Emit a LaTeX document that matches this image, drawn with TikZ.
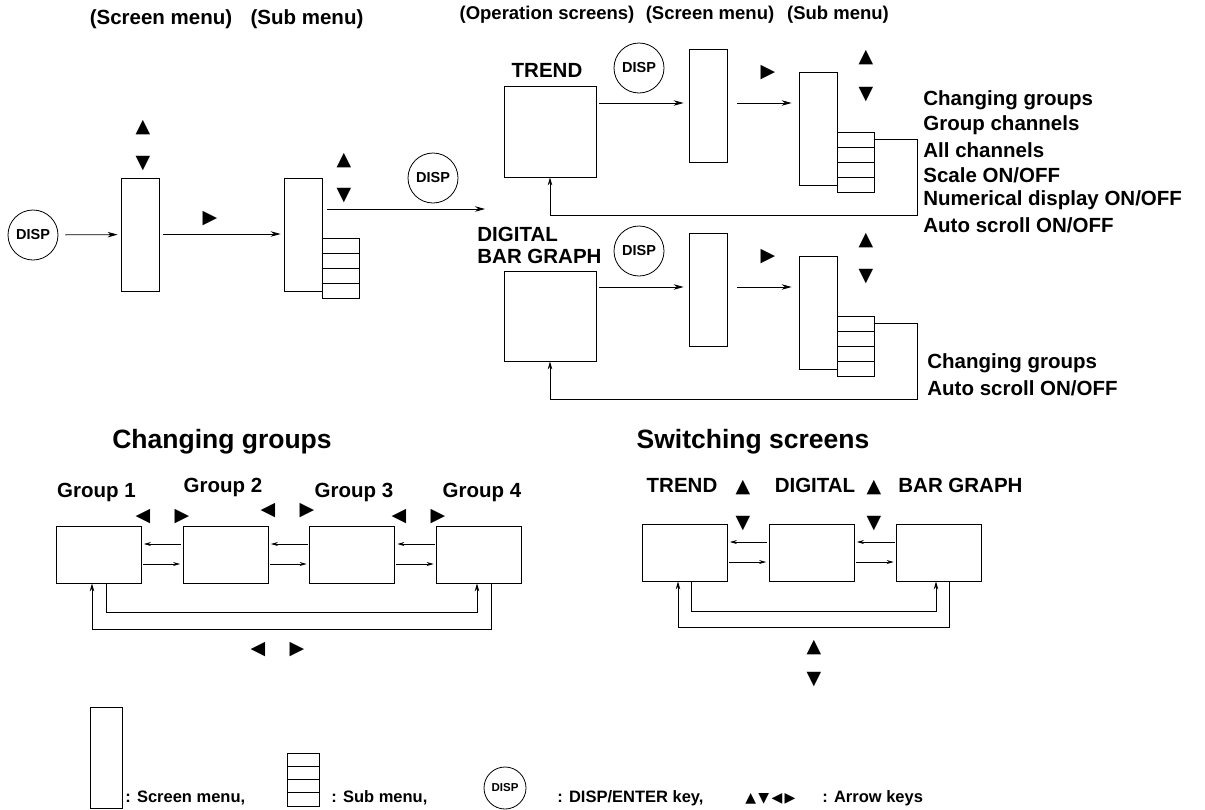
\documentclass[tikz,border=0pt]{standalone}
\usepackage{fontspec}
\setmainfont{Liberation Sans}
\newfontfamily\symfont{DejaVu Sans}
\usetikzlibrary{arrows.meta,positioning,calc}
\newcommand{\bsz}[1]{\fontsize{#1}{#1}\selectfont\bfseries}

\begin{document}
\begin{tikzpicture}[
  x=1pt,y=-1pt,
  line width=0.8pt,
  lbl/.style={font=\bsz{20.5},inner sep=0},
  hdr/.style={font=\bsz{18.5},inner sep=0},
  title/.style={font=\bsz{26.5},inner sep=0},
  note/.style={font=\bsz{16.5},inner sep=0,anchor=west},
  keybtn/.style={circle,draw,minimum size=50pt,inner sep=0,font=\bsz{14.5}},
  menu/.style={draw,minimum width=38pt,minimum height=113pt,inner sep=0},
  screen/.style={draw,minimum width=92pt,minimum height=91pt,inner sep=0},
  grp/.style={draw,minimum width=85pt,minimum height=57pt,inner sep=0},
  subrow/.style={draw,minimum width=37pt,minimum height=15pt,inner sep=0},
  tri/.style={font=\symfont\fontsize{19}{19}\selectfont,inner sep=0},
  link/.style={-{Stealth[length=10pt,width=5.5pt]},shorten >=5pt,shorten <=4pt},
  swap/.style={-{Stealth[length=7pt,width=4pt]},shorten >=2.5pt,shorten <=1.5pt},
  ret/.style={-{Stealth[length=8pt,width=4.5pt]}},
]
  \useasboundingbox (0,0) rectangle (1205,809);

  % ---------------- headers ----------------
  \node[lbl] (hScr) at (161,19) {(Screen menu)};
  \node[lbl] (hSub) at (307,19) {(Sub menu)};
  \node[hdr] (hOp)   at (547,15) {(Operation screens)};
  \node[hdr] (hScr2) at (710,15) {(Screen menu)};
  \node[hdr] (hSub2) at (838,15) {(Sub menu)};

  % ---------------- entry ----------------
  \node[keybtn] (keyA) at (33,235) {DISP};
  \node[menu] (menuA) at (140,234.5) {};
  \node[tri] (upA) at (143,128) {▲};
  \node[tri] (dnA) at (143,164) {▼};
  \node[tri] (rtA) at (210,219) {▶};
  \node[menu] (menuB) at (303,235) {};
  \foreach \i in {1,...,4}
    \node[subrow] (subB\i) at (340.5,230.5+15*\i) {};
  \node[tri] (upB) at (344,161) {▲};
  \node[tri] (dnB) at (344,196) {▼};
  \node[keybtn] (keyB) at (433,178) {DISP};
  \coordinate (subout) at (327,209);
  \coordinate (opin) at (485,209);
  \draw[link,shorten <=7pt,shorten >=3pt] (keyA) -- (menuA);
  \draw[link,shorten >=3pt] (menuA.east |- 0,234) -- (menuB.west |- 0,234);
  \draw[-{Stealth[length=10pt,width=5.5pt]}] (subout) -- (opin);

  % ---------------- trend ----------------
  \node[lbl] (lTrend) at (547,70) {TREND};
  \node[screen] (trend) at (550,131.5) {};
  \node[keybtn] (keyC) at (639,68) {DISP};
  \node[menu] (menuC) at (708,105.5) {};
  \node[tri] (rtC) at (768,73) {▶};
  \node[menu] (subcolC) at (818,128.5) {};
  \foreach \i in {1,...,4}
    \node[subrow] (subC\i) at (855.5,124.5+15*\i) {};
  \node[tri] (upC) at (866,58) {▲};
  \node[tri] (dnC) at (866,95) {▼};
  \draw[link,shorten <=3pt] (trend.east |- 0,103) -- (menuC.west |- 0,103);
  \draw[link,shorten <=10pt,shorten >=7pt] (menuC.east |- 0,103) -- (subcolC.west |- 0,103);
  \coordinate (loopT) at (917,215);
  \draw[ret] (subC1.east) -| (loopT) -| (trend.south);
  \foreach \t [count=\i] in {Changing groups,Group channels,All channels,
      Scale ON/OFF,Numerical display ON/OFF,Auto scroll ON/OFF}
    \node[lbl,anchor=west] (itemT\i) at (923,75+25*\i) {\t};

  % ---------------- digital / bar graph ----------------
  \node[lbl,anchor=west,align=left,font=\fontsize{20.5}{22}\selectfont\bfseries]
    (lDig) at (477,245) {DIGITAL\\BAR GRAPH};
  \node[screen,minimum height=90pt] (bar) at (550,316) {};
  \node[keybtn] (keyD) at (639,251) {DISP};
  \node[menu] (menuD) at (708,289.5) {};
  \node[tri] (rtD) at (768,257) {▶};
  \node[menu] (subcolD) at (818,312.5) {};
  \foreach \i in {1,...,4}
    \node[subrow] (subD\i) at (855.5,308.5+15*\i) {};
  \node[tri] (upD) at (866,241) {▲};
  \node[tri] (dnD) at (866,277) {▼};
  \draw[link,shorten <=3pt] (bar.east |- 0,287) -- (menuD.west |- 0,287);
  \draw[link,shorten <=10pt,shorten >=7pt] (menuD.east |- 0,287) -- (subcolD.west |- 0,287);
  \coordinate (loopB) at (917,399);
  \draw[ret] (subD1.east) -| (loopB) -| (bar.south);
  \node[lbl,anchor=west] (itemB1) at (927,363) {Changing groups};
  \node[lbl,anchor=west] (itemB2) at (927,388) {Auto scroll ON/OFF};

  % ---------------- changing groups ----------------
  \node[title] (tGrp) at (222,442) {Changing groups};
  \node[lbl] (lg1) at (96.5,492) {Group 1};
  \node[lbl] (lg2) at (223,487) {Group 2};
  \node[lbl] (lg3) at (354,492) {Group 3};
  \node[lbl] (lg4) at (482,492) {Group 4};
  \foreach \i/\x in {1/98.5,2/225.5,3/352,4/479}
    \node[grp] (g\i) at (\x,554.5) {};
  \foreach \a/\b in {g1/g2,g2/g3,g3/g4} {
    \draw[swap] (\b.west |- 0,544) -- (\a.east |- 0,544);
    \draw[swap] (\a.east |- 0,564) -- (\b.west |- 0,564);
  }
  \foreach \x/\y in {143/517,268/511,399/517,258/650}
    \node[tri] at (\x,\y) {◀};
  \foreach \x/\y in {182/517,307/511,438/517,297/650}
    \node[tri] at (\x,\y) {▶};
  \draw[ret] ([xshift=7.5pt]g1.south) -- ++(0,29) -| ([xshift=-2pt]g4.south);
  \draw[ret] ([xshift=12pt]g4.south) -- ++(0,46) -| ([xshift=-6.5pt]g1.south);

  % ---------------- switching screens ----------------
  \node[title] (tSw) at (753,442) {Switching screens};
  \node[lbl] (ls1) at (682,485) {TREND};
  \node[lbl] (ls2) at (815,485) {DIGITAL};
  \node[lbl,anchor=west] (ls3) at (898,485) {BAR GRAPH};
  \foreach \i/\x in {1/684.5,2/811.5,3/939}
    \node[grp] (s\i) at (\x,552.5) {};
  \foreach \a/\b in {s1/s2,s2/s3} {
    \draw[swap] (\b.west |- 0,542) -- (\a.east |- 0,542);
    \draw[swap] (\a.east |- 0,562) -- (\b.west |- 0,562);
  }
  \foreach \x in {743,874} {
    \node[tri] at (\x,488) {▲};
    \node[tri] at (\x,524) {▼};
  }
  \node[tri] (upS) at (814,648) {▲};
  \node[tri] (dnS) at (814,680) {▼};
  \draw[ret] ([xshift=6.5pt]s1.south) -- ++(0,30) -| ([xshift=-3pt]s3.south);
  \draw[ret] ([xshift=10pt]s3.south) -- ++(0,46) -| ([xshift=-6.5pt]s1.south);

  % ---------------- legend ----------------
  \node[draw,minimum width=32pt,minimum height=101pt,inner sep=0] (legMenu) at (106,757.5) {};
  \node[note] (legT1) at (125,798) {: Screen menu,};
  \foreach \i in {1,...,4}
    \node[draw,minimum width=32pt,minimum height=13.25pt,inner sep=0] (legSub\i) at (303,746.4+13.25*\i) {};
  \node[note] (legT2) at (331,798) {: Sub menu,};
  \node[keybtn,minimum size=42pt,font=\bsz{11.5}] (legKey) at (505,788) {DISP};
  \node[note] (legT3) at (557,798) {: DISP/ENTER key,};
  \node[note,font=\symfont\fontsize{14}{14}\selectfont] (legTri) at (745,799) {▲\,▼\,◀\,▶};
  \node[note] (legT4) at (822,798) {: Arrow keys};
\end{tikzpicture}
\end{document}
